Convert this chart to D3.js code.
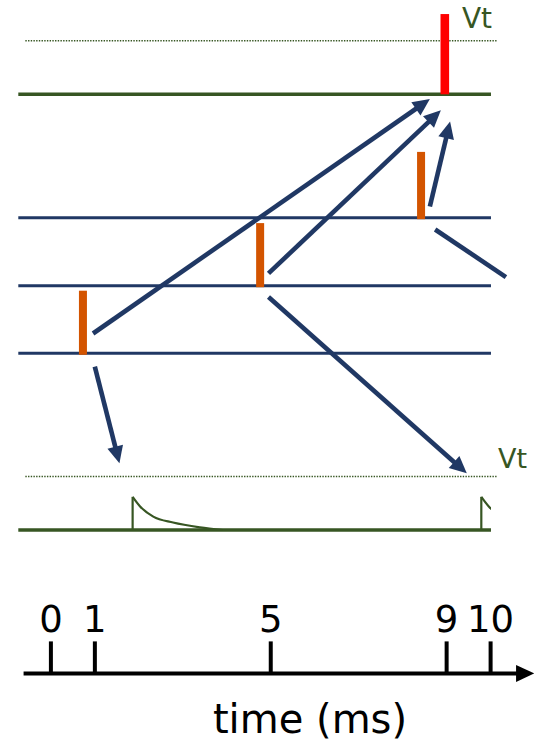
<!DOCTYPE html>
<html>
<head>
<meta charset="utf-8">
<script src="https://cdn.jsdelivr.net/npm/d3@7"></script>
<style>
  html, body { margin: 0; padding: 0; background: #fff; }
  svg { display: block; }
</style>
</head>
<body>
<svg id="chart" width="534" height="742"></svg>
<script>
// ---------------- data ----------------
const tickValues = [0, 1, 5, 9, 10];
const axisLabel = "time (ms)";
const rowNames = ["output", "input3", "input2", "input1", "target"];
const rowKinds = ["neuron", "input", "input", "input", "neuron"];
const lineSpan = [-0.73, 10.02];        // ms
const thresholdSpan = [-0.57, 10.17];   // ms
const thresholdRows = ["output", "target"];
const thresholdValue = 1;               // Vt
const vtLabelRows = ["output", "target"];
const vtLabelTimes = [9.36, 10.18];
const vtLabelLevels = [1.23, 1.16];
const spikeRows = ["input1", "input2", "input3", "output"];
const spikeTimes = [0.74, 4.77, 8.43, 8.97];
const spikeHeights = [1.17, 1.17, 1.23, 1.50];
const spikeKinds = ["input", "input", "input", "output"];
const pspOnsets = [1.87, 9.80];
const pspShapeDt = [0, 0.17, 0.47, 0.92, 1.53, 2.05];
const pspShapeV = [0.62, 0.44, 0.25, 0.14, 0.05, 0];
const arrowFromRow = ["input1", "input2", "input3", "input3", "input2", "input1"];
const arrowFromT   = [0.97, 4.96, 8.63, 8.75, 4.96, 1.01];
const arrowFromV   = [0.37, 0.23, 0.21, -0.22, -0.21, -0.25];
const arrowToRow   = ["output", "output", "output", "input3", "target", "target"];
const arrowToT     = [8.63, 8.88, 9.09, 10.36, 9.47, 1.57];
const arrowToV     = [-0.09, -0.30, -0.51, -1.11, 1.06, 1.25];
const arrowHead    = [true, true, true, false, true, true];
const axisSpan = [-0.61, 11.0];

// ---------------- styles ----------------
const GREEN = "#375623";
const NAVY = "#203864";
const ORANGE = "#d35400";
const RED = "#ff0000";
const FONT = "'DejaVu Sans', Verdana, sans-serif";

const svg = d3.select("#chart");

// ---------------- scales ----------------
const x = d3.scaleLinear().domain([0, 10]).range([50.4, 490.1]);
const rowY = d3.scaleOrdinal().domain(rowNames).range([94.3, 217.7, 285.7, 353.3, 530]);
const v = d3.scaleLinear().domain([0, 1]).range([0, -53.5]);
const Y = (row, val) => rowY(row) + v(val);
const kindOf = r => rowKinds[rowNames.indexOf(r)];

// clip for the diagram (lines end at lineSpan end)
svg.append("defs").append("clipPath").attr("id", "diagClip")
  .append("rect").attr("x", 0).attr("y", 0)
  .attr("width", x(lineSpan[1])).attr("height", 560);

// ---------------- threshold (dotted) ----------------
svg.append("g").selectAll("line").data(thresholdRows).join("line")
  .attr("x1", x(thresholdSpan[0])).attr("x2", x(thresholdSpan[1]))
  .attr("y1", d => Y(d, thresholdValue)).attr("y2", d => Y(d, thresholdValue))
  .attr("stroke", GREEN).attr("stroke-width", 1.6)
  .attr("stroke-dasharray", "1.4,1.3");

svg.append("g").selectAll("text").data(vtLabelRows).join("text")
  .attr("x", (d, i) => x(vtLabelTimes[i]))
  .attr("y", (d, i) => Y(d, vtLabelLevels[i]))
  .attr("font-family", FONT).attr("font-size", (d, i) => i === 0 ? 28 : 27)
  .attr("fill", GREEN).text("Vt");

// ---------------- row lines ----------------
svg.append("g").selectAll("line").data(rowNames).join("line")
  .attr("x1", x(lineSpan[0])).attr("x2", x(lineSpan[1]))
  .attr("y1", d => rowY(d)).attr("y2", d => rowY(d))
  .attr("stroke", d => kindOf(d) === "input" ? NAVY : GREEN)
  .attr("stroke-width", d => kindOf(d) === "input" ? 3 : 3.4);

// ---------------- PSPs on target ----------------
const pspG = svg.append("g").attr("clip-path", "url(#diagClip)");
const decay = d3.line().curve(d3.curveMonotoneX)
  .x(d => x(d[0])).y(d => Y("target", d[1]));
pspOnsets.forEach(t0 => {
  pspG.append("line")
    .attr("x1", x(t0)).attr("x2", x(t0))
    .attr("y1", Y("target", 0)).attr("y2", Y("target", pspShapeV[0]))
    .attr("stroke", GREEN).attr("stroke-width", 2.2);
  const pts = pspShapeDt.map((dt, i) => [t0 + dt, pspShapeV[i]]);
  pspG.append("path").attr("d", decay(pts))
    .attr("fill", "none").attr("stroke", GREEN).attr("stroke-width", 2.2);
});

// ---------------- spikes ----------------
svg.append("g").selectAll("rect").data(spikeRows).join("rect")
  .attr("x", (d, i) => x(spikeTimes[i]) - (spikeKinds[i] === "output" ? 4.3 : 4))
  .attr("width", (d, i) => spikeKinds[i] === "output" ? 8.6 : 8)
  .attr("y", (d, i) => Y(d, spikeHeights[i]))
  .attr("height", (d, i) => -v(spikeHeights[i]) + (spikeKinds[i] === "output" ? 0 : 1.5))
  .attr("fill", (d, i) => spikeKinds[i] === "output" ? RED : ORANGE);

// ---------------- arrows ----------------
const arrowG = svg.append("g");
const HEAD_L = 17, HEAD_W = 8;
arrowFromRow.forEach((fr, i) => {
  const x1 = x(arrowFromT[i]), y1 = Y(fr, arrowFromV[i]);
  const x2 = x(arrowToT[i]), y2 = Y(arrowToRow[i], arrowToV[i]);
  const dx = x2 - x1, dy = y2 - y1, len = Math.hypot(dx, dy);
  const ux = dx / len, uy = dy / len;
  const ex = arrowHead[i] ? x2 - ux * (HEAD_L - 1) : x2;
  const ey = arrowHead[i] ? y2 - uy * (HEAD_L - 1) : y2;
  arrowG.append("line")
    .attr("x1", x1).attr("y1", y1).attr("x2", ex).attr("y2", ey)
    .attr("stroke", NAVY).attr("stroke-width", 4.6);
  if (arrowHead[i]) {
    const bx = x2 - ux * HEAD_L, by = y2 - uy * HEAD_L;
    const px = -uy, py = ux;
    arrowG.append("path")
      .attr("d", `M${x2},${y2}L${bx + px * HEAD_W},${by + py * HEAD_W}L${bx - px * HEAD_W},${by - py * HEAD_W}Z`)
      .attr("fill", NAVY);
  }
});

// ---------------- time axis ----------------
const axisY = 673.4;
const axisG = svg.append("g").attr("transform", `translate(0,${axisY})`);
axisG.append("line")
  .attr("x1", x(axisSpan[0])).attr("x2", x(axisSpan[1]) - 12)
  .attr("y1", 0).attr("y2", 0)
  .attr("stroke", "#000").attr("stroke-width", 4);
axisG.append("path")
  .attr("d", `M${x(axisSpan[1])},0L${x(axisSpan[1]) - 18},-8.5L${x(axisSpan[1]) - 18},8.5Z`)
  .attr("fill", "#000");

const tickAxis = d3.axisTop(x).tickValues(tickValues).tickSize(32).tickPadding(9)
  .tickFormat(d3.format("d"));
const tg = axisG.append("g").call(tickAxis);
tg.select(".domain").remove();
tg.selectAll(".tick line").attr("stroke", "#000").attr("stroke-width", 4);
tg.selectAll(".tick text").attr("fill", "#000")
  .attr("font-family", FONT).attr("font-size", 37);

svg.append("text")
  .attr("x", 310).attr("y", 733)
  .attr("text-anchor", "middle")
  .attr("font-family", FONT).attr("font-size", 40)
  .attr("fill", "#000").text(axisLabel);
</script>
</body>
</html>
